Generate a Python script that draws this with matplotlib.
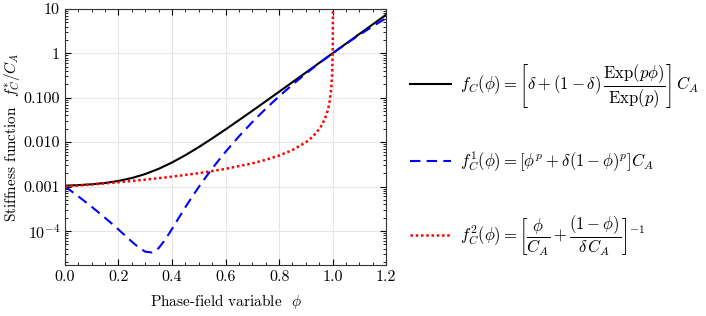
import matplotlib
matplotlib.use('Agg')
import matplotlib.pyplot as plt
from matplotlib.ticker import FixedLocator, MultipleLocator, LogLocator, NullFormatter

plt.rcParams['font.family'] = 'serif'
plt.rcParams['font.serif'] = ['cmr10']
plt.rcParams['mathtext.fontset'] = 'cm'
plt.rcParams['axes.unicode_minus'] = False
plt.rcParams['axes.formatter.use_mathtext'] = True

# values
phi_c = [0.0, 0.05, 0.1, 0.15, 0.2, 0.25, 0.3, 0.35, 0.4, 0.45, 0.5, 0.55, 0.6,
         0.65, 0.7, 0.75, 0.8, 0.85, 0.9, 0.95, 1.0, 1.05, 1.1, 1.15, 1.2]
f_c = [0.001045, 0.001075, 0.001123, 0.001203, 0.001335, 0.001553, 0.001911,
       0.002502, 0.003476, 0.005083, 0.007731, 0.0121, 0.0193, 0.0312, 0.0507,
       0.0830, 0.136, 0.224, 0.368, 0.607, 1.0, 1.649, 2.718, 4.48, 7.39]

phi_c1 = [0.0, 0.025, 0.05, 0.075, 0.1, 0.125, 0.15, 0.175, 0.2, 0.225, 0.25,
          0.275, 0.3, 0.325, 0.35, 0.375, 0.4, 0.425, 0.45, 0.475, 0.5, 0.525,
          0.55, 0.575, 0.6, 0.65, 0.7, 0.75, 0.8, 0.85, 0.9, 0.95, 1.0, 1.05,
          1.1, 1.15, 1.2]
f_c1 = [1.0e-3, 7.76e-4, 5.99e-4, 4.59e-4, 3.49e-4, 2.63e-4, 1.97e-4, 1.461e-4,
        1.075e-4, 7.85e-5, 5.73e-5, 4.26e-5, 3.41e-5, 3.28e-5, 4.10e-5, 6.41e-5,
        1.109e-4, 1.96e-4, 3.43e-4, 5.87e-4, 9.78e-4, 1.59e-3, 2.533e-3,
        3.95e-3, 6.05e-3, 0.01346, 0.02825, 0.0563, 0.1074, 0.1969, 0.3487,
        0.5987, 1.0, 1.629, 2.594, 4.046, 6.192]

phi_c2 = [0.0, 0.1, 0.2, 0.3, 0.4, 0.5, 0.6, 0.7, 0.75, 0.8, 0.85, 0.9, 0.925,
          0.95, 0.96, 0.97, 0.98, 0.985, 0.99, 0.995, 0.998, 1.0, 1.0005,
          1.0008, 1.0009, 1.00095]
f_c2 = [0.001, 0.001111, 0.00125, 0.001428, 0.001666, 0.001998, 0.002496,
        0.003326, 0.003988, 0.00498, 0.00663, 0.00991, 0.01317, 0.01963,
        0.02441, 0.03229, 0.04766, 0.06256, 0.0910, 0.1668, 0.3336, 1.0, 2.0,
        4.98, 9.91, 20.0]

yticks = [1e-4, 1e-3, 1e-2, 1e-1, 1, 10]
ylabels = [r'$10^{-4}$', '0.001', '0.010', '0.100', '1', '10']

fig = plt.figure(figsize=(7.06, 3.16), dpi=100)
ax = fig.add_axes([0.092, 0.161, 0.455, 0.811])

l0, = ax.plot(phi_c, f_c, color='black', lw=1.5)
l1, = ax.plot(phi_c1, f_c1, color='#0000ff', lw=1.5, ls=(0, (5, 3)))
l2, = ax.plot(phi_c2, f_c2, color='#ff0000', lw=1.8, ls=(0, (1, 1.1)))

ax.set_yscale('log')
ax.set_xlim(0, 1.2)
ax.set_ylim(1.7e-5, 10)
ax.xaxis.set_major_locator(MultipleLocator(0.2))
ax.xaxis.set_minor_locator(MultipleLocator(0.05))
ax.xaxis.set_major_formatter(matplotlib.ticker.FormatStrFormatter('%.1f'))
ax.yaxis.set_major_locator(FixedLocator(yticks))
ax.set_yticklabels(ylabels)
ax.yaxis.set_minor_locator(LogLocator(base=10, subs=range(2, 10)))
ax.yaxis.set_minor_formatter(NullFormatter())
ax.tick_params(which='both', direction='in', top=True, right=True, labelsize=11.5)
ax.tick_params(which='major', length=4, width=0.8)
ax.tick_params(which='minor', length=2, width=0.6)
ax.grid(True, which='major', color='#e6e6e6', lw=0.8)
for s in ax.spines.values():
    s.set_color('#333333')

ax.set_xlabel(r'Phase-field variable  $\phi$', fontsize=11, labelpad=6)
ax.set_ylabel(r'Stiffness function  $f_C^{*}/C_A$', fontsize=11, labelpad=1)

labels = [
    r'$f_C(\phi) = \left[\delta + (1-\delta)\,\dfrac{\mathrm{Exp}(p\phi)}{\mathrm{Exp}(p)}\right]\,C_A$',
    r'$f_C^1(\phi) = [\phi^p + \delta(1-\phi)^p]C_A$',
    r'$f_C^2(\phi) = \left[\dfrac{\phi}{C_A} + \dfrac{(1-\phi)}{\delta\, C_A}\right]^{-1}$',
]
fig.legend([l0, l1, l2], labels, loc='center left', bbox_to_anchor=(0.56, 0.495),
           frameon=False, fontsize=12, handlelength=2.45, handletextpad=0.55,
           labelspacing=2.4)

fig.savefig('out.png', dpi=100)
